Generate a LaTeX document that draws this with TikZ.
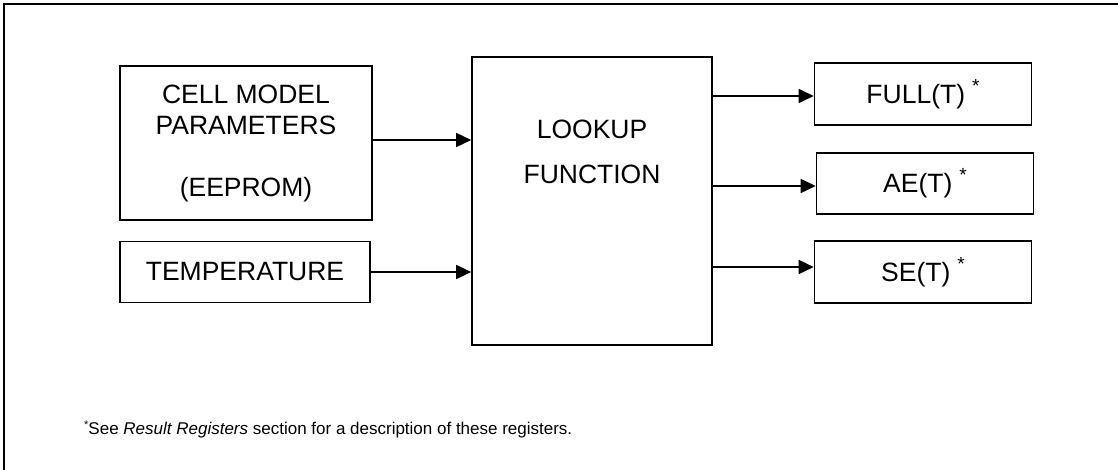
\documentclass[tikz,border=0pt]{standalone}
\usepackage{fontspec}
\setmainfont{Liberation Sans}
\usetikzlibrary{arrows.meta}

\begin{document}
\begin{tikzpicture}[
   x=1pt, y=-1pt,
   box/.style={rectangle, draw, line width=1.6pt, inner sep=0pt,
      font=\fontsize{26.5}{31}\selectfont, align=center},
   arrow/.style={-{Triangle[length=15pt,width=14pt]}, line width=1.6pt}
]
\useasboundingbox (0,0) rectangle (1118,470);
% Frame
\draw[line width=2pt] (4,470) -- (4,4) -- (1118,4);

% Inputs
\node[box, minimum width=252pt, minimum height=154pt] (cell) at (246,143)
   {CELL MODEL\\PARAMETERS\\[31pt](EEPROM)};
\node[box, minimum width=250pt, minimum height=61pt] (temp) at (245,272) {TEMPERATURE};

% Lookup
\node[box, minimum width=240pt, minimum height=288pt] (lookup) at (592,201) {};
\node[font=\fontsize{26.5}{45}\selectfont, align=center] (lookuptext) at (592,152) {LOOKUP\\FUNCTION};

% Outputs
\newcommand{\regstar}{\hspace{7pt}\raisebox{11pt}{\fontsize{19}{19}\selectfont *}}
\node[box, minimum width=217pt, minimum height=62pt] (full) at (923,94) {FULL(T)\regstar};
\node[box, minimum width=217pt, minimum height=61pt] (ae) at (925,183.5) {AE(T)\regstar};
\node[box, minimum width=217pt, minimum height=62pt] (se) at (923,272) {SE(T)\regstar};

% Arrows
\draw[arrow] ([yshift=3pt]cell.east) -- ([yshift=3pt]cell.east -| lookup.west);
\draw[arrow] (temp.east) -- (temp.east -| lookup.west);
\draw[arrow] (lookup.east |- full.west) ++(0,2) -- ([yshift=-2pt]full.west);
\draw[arrow] (lookup.east |- ae.west) ++(0,2.5) -- ([yshift=-2.5pt]ae.west);
\draw[arrow] (lookup.east |- se.west) ++(0,-5) -- ([yshift=5pt]se.west);

% Footnote
\node[anchor=base west, inner sep=0pt, font=\fontsize{17}{20}\selectfont] (note) at (84,434)
   {\raisebox{6pt}{\fontsize{11}{11}\selectfont *}See \textit{Result Registers} section for a description of these registers.};
\end{tikzpicture}
\end{document}
